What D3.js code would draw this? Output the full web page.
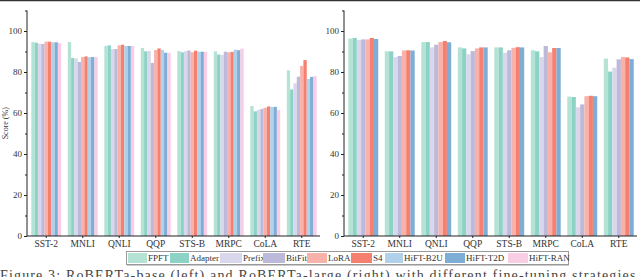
<!DOCTYPE html>
<html>
<head>
<meta charset="utf-8">
<script src="https://cdn.jsdelivr.net/npm/d3@7"></script>
<style>
  body { margin: 0; background: #fff; }
  svg { display: block; }
  svg text { font-family: "Liberation Serif", "DejaVu Serif", serif; }
</style>
</head>
<body>
<svg id="chart" width="640" height="277"></svg>
<script>
const tasks = ["SST-2", "MNLI", "QNLI", "QQP", "STS-B", "MRPC", "CoLA", "RTE"];
const methods = ["FPFT", "Adapter", "Prefix", "BitFit", "LoRA", "S4", "HiFT-B2U", "HiFT-T2D", "HiFT-RAN"];
const colors = ["#b4e3d6", "#8dd3c5", "#d9d7ec", "#bdb9da", "#f8b2aa", "#f6806f", "#b0d1e9", "#7eaed6", "#f9cde3"];

// left panel, all nine methods
const baseScores = {
  "FPFT":     [94.6, 94.6, 92.7, 91.7, 90.2, 90.1, 63.4, 80.8],
  "Adapter":  [94.3, 86.8, 93.0, 90.1, 89.6, 88.5, 60.8, 71.5],
  "Prefix":   [93.8, 86.6, 91.2, 90.3, 90.1, 88.3, 61.5, 74.5],
  "BitFit":   [93.7, 84.9, 91.2, 84.4, 90.5, 89.9, 62.0, 77.7],
  "LoRA":     [94.8, 87.3, 93.0, 90.7, 89.6, 89.6, 62.5, 83.0],
  "S4":       [94.8, 87.6, 93.3, 91.5, 90.4, 89.8, 63.2, 85.8],
  "HiFT-B2U": [94.5, 87.2, 92.7, 90.8, 89.9, 90.9, 63.0, 76.6],
  "HiFT-T2D": [94.5, 87.3, 92.7, 89.4, 89.9, 90.6, 63.0, 77.6],
  "HiFT-RAN": [94.1, 87.2, 92.7, 89.3, 89.8, 91.4, 61.5, 78.0]
};
// right panel, seven methods
const largeMethods = ["FPFT", "Adapter", "Prefix", "BitFit", "LoRA", "S4", "HiFT-T2D"];
const largeScores = {
  "FPFT":     [96.3, 90.1, 94.6, 92.0, 92.0, 90.6, 68.0, 86.5],
  "Adapter":  [96.6, 90.1, 94.6, 91.5, 92.0, 90.1, 67.8, 80.2],
  "Prefix":   [95.6, 87.3, 92.0, 88.6, 89.4, 87.3, 62.8, 82.1],
  "BitFit":   [95.9, 87.8, 93.3, 90.2, 90.6, 92.7, 64.2, 86.2],
  "LoRA":     [95.9, 90.5, 94.6, 91.5, 91.8, 89.6, 68.2, 87.3],
  "S4":       [96.6, 90.6, 95.1, 92.0, 92.1, 91.7, 68.4, 87.1],
  "HiFT-T2D": [96.1, 90.5, 94.5, 92.0, 92.0, 91.7, 68.2, 86.3]
};
const yTicks = [0, 20, 40, 60, 80, 100];

const svg = d3.select("#chart");
const color = d3.scaleOrdinal().domain(methods).range(colors);
const serif = "'Liberation Serif', 'DejaVu Serif', serif";

// top rule from the page
svg.append("line").attr("x1", 0).attr("x2", 640).attr("y1", 0.5).attr("y2", 0.5)
  .attr("stroke", "#333").attr("stroke-width", 1.5);

function panel(x0, x1, keys, scores, withLabel) {
  const y = d3.scaleLinear().domain([0, 110]).range([236, 10.5]);
  const x = d3.scaleBand().domain(tasks).range([x0 + 1, x1]).paddingInner(0.18).paddingOuter(0.09);
  const xi = d3.scaleBand().domain(keys).range([0, x.bandwidth()]);
  const g = svg.append("g");

  g.selectAll("g.grp").data(tasks).join("g")
    .attr("transform", d => `translate(${x(d)},0)`)
    .selectAll("rect")
    .data((t, i) => keys.map(k => ({ k, v: scores[k][i] })))
    .join("rect")
    .attr("x", d => xi(d.k))
    .attr("width", xi.bandwidth())
    .attr("y", d => y(d.v))
    .attr("height", d => y(0) - y(d.v))
    .attr("fill", d => color(d.k));

  // y axis
  const ya = g.append("g").attr("transform", `translate(${x0},0)`)
    .call(d3.axisLeft(y).tickValues(yTicks).tickSize(3).tickPadding(2).tickFormat(d3.format("d")))
    .attr("font-family", serif);
  ya.select(".domain").attr("d", `M0,${y(110)}V${y(0)}`).attr("stroke", "#222");
  ya.selectAll(".tick line").attr("stroke", "#222");
  ya.selectAll("text").attr("font-size", 9).attr("fill", "#333");
  g.append("g").attr("transform", `translate(${x0},0)`)
    .call(d3.axisLeft(y).tickValues([10, 30, 50, 70, 90, 110]).tickSize(2).tickFormat(""))
    .call(a => a.select(".domain").remove())
    .selectAll("line").attr("stroke", "#222");

  // x axis
  const xa = g.append("g").attr("transform", `translate(0,${y(0)})`)
    .call(d3.axisBottom(x).tickSize(2).tickPadding(2))
    .attr("font-family", serif);
  xa.select(".domain").attr("d", `M${x0},0H${x1}`).attr("stroke", "#222");
  xa.selectAll(".tick line").attr("stroke", "#222");
  xa.selectAll("text").attr("font-size", 9.5).attr("fill", "#333");

  if (withLabel) {
    g.append("text").attr("transform", `translate(8,${(y(0) + y(110)) / 2}) rotate(-90)`)
      .attr("text-anchor", "middle").attr("font-size", 8).attr("fill", "#333")
      .text("Score (%)");
  }
}

panel(27, 320, methods, baseScores, true);
panel(344, 637, largeMethods, largeScores, false);

// legend
const legend = svg.append("g");
legend.append("rect").attr("x", 126.5).attr("y", 251.5).attr("width", 442).attr("height", 13)
  .attr("fill", "#fff").attr("stroke", "#999");
legend.append("line").attr("x1", 127).attr("x2", 569).attr("y1", 265.5).attr("y2", 265.5)
  .attr("stroke", "#ccc");
const swatchX = [128, 170, 220, 263, 307, 351, 385, 445, 508];
const swatchW = [19, 19, 22, 22, 20, 21, 18, 20, 20];
methods.forEach((m, i) => {
  legend.append("rect").attr("x", swatchX[i]).attr("y", 253).attr("width", swatchW[i]).attr("height", 10)
    .attr("fill", color(m));
  legend.append("text").attr("x", swatchX[i] + swatchW[i] + 1).attr("y", 261)
    .attr("font-size", 9).attr("fill", "#333").text(m);
});

// caption, cut off at the bottom as in the page
svg.append("text").attr("x", 0).attr("y", 280).attr("font-size", 14).attr("fill", "#444")
  .attr("textLength", 640).attr("lengthAdjust", "spacing")
  .text("Figure 3: RoBERTa-base (left) and RoBERTa-large (right) with different fine-tuning strategies.");
</script>
</body>
</html>
